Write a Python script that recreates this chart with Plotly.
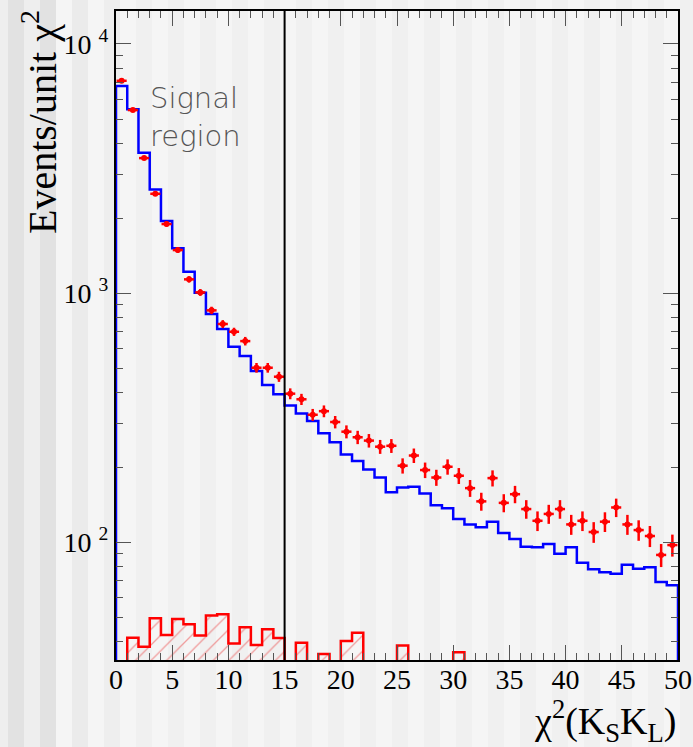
import numpy as np
import plotly.graph_objects as go

# ---- data ----
bin_edges = list(range(0, 51))          # chi2 bins of unit width, 0..50
data_counts = [7118, 5430, 3484, 2505, 1894, 1489, 1136, 1007, 853, 752,
               700, 642, 502, 502, 462, 395, 375, 325, 336, 304,
               278, 264, 256, 242, 244, 203, 223, 195, 182, 201,
               185, 165, 146, 181, 144, 156, 136, 122, 130, 136,
               118, 122, 110, 121, 138, 118, 112, 106, 89, 97.5]
mc_counts = [6776, 5466, 3660, 2609, 1947, 1513, 1219, 1004, 824, 718,
             610, 559, 487, 428, 393, 354, 329, 307, 274, 252,
             225, 212, 196, 182, 159, 166, 167, 157, 141, 137,
             124, 118, 115, 121, 109, 103, 96, 95.5, 98.4, 90,
             95.5, 82.8, 77.9, 75.8, 74.8, 81.3, 78.4, 79.4, 69.3, 67.2]
bkg_counts = [0, 41.4, 38.1, 49.6, 42.5, 49.2, 46.9, 42.3, 50.8, 51.4,
              39.3, 45.6, 38.7, 44.8, 41.3, 0, 39.5, 0, 35.6, 0,
              40.2, 43.4, 0, 0, 0, 38.5, 0, 0, 0, 0,
              36.2, 0, 0, 0, 0, 0, 0, 0, 0, 0,
              0, 0, 0, 0, 0, 0, 0, 0, 0, 0]
signal_cut = 15
x_ticks = [0, 5, 10, 15, 20, 25, 30, 35, 40, 45, 50]
y_major = [100, 1000, 10000]
y_labels = ["10 <sup>2</sup>", "10 <sup>3</sup>", "10 <sup>4</sup>"]

FLOOR = 1.0  # below visible range (log axis)

def step_path(edges, vals):
    xs, ys = [edges[0]], [FLOOR]
    for i, v in enumerate(vals):
        vv = v if v > 0 else FLOOR
        xs += [edges[i], edges[i + 1]]
        ys += [vv, vv]
    xs.append(edges[-1]); ys.append(FLOOR)
    return xs, ys

W, H = 693, 747
ML, MR, MT, MB = 116, 15, 11, 87
PW, PH = W - ML - MR, H - MT - MB
def px2paper_x(px): return (px - ML) / PW
def py2paper_y(py): return (H - MB - py) / PH

fig = go.Figure()

# background hatched histogram
bx, by = step_path(bin_edges, bkg_counts)
fig.add_trace(go.Scatter(
    x=bx, y=by, mode="lines", fill="toself",
    fillcolor="rgba(0,0,0,0)",
    fillpattern=dict(shape="/", fgcolor="rgba(235,50,50,0.9)", bgcolor="rgba(0,0,0,0)",
                     size=11, solidity=0.12),
    line=dict(color="#ff0000", width=2.5), hoverinfo="skip", showlegend=False))

# MC histogram
mx, my = step_path(bin_edges, mc_counts)
fig.add_trace(go.Scatter(x=mx, y=my, mode="lines",
                         line=dict(color="#0000ff", width=2.5),
                         hoverinfo="skip", showlegend=False))

# data points
centers = [(bin_edges[i] + bin_edges[i + 1]) / 2 for i in range(len(data_counts))]
fig.add_trace(go.Scatter(
    x=centers, y=data_counts, mode="markers",
    marker=dict(color="#ff0000", size=6),
    error_y=dict(type="data", array=np.sqrt(data_counts), color="#ff0000",
                 thickness=2.5, width=0),
    error_x=dict(type="constant", value=0.45, color="#ff0000", thickness=2.5, width=0),
    showlegend=False))

# striped background
shapes = []
dark_cols = ["#e2e2e2", "#e2e2e2", "#ebebeb", "#eeeeee"]
for m in range(22):
    x0 = 8 + 32 * m
    col = dark_cols[m] if m < len(dark_cols) else "#f0f0f0"
    shapes.append(dict(type="rect", xref="paper", yref="paper", layer="below",
                       x0=px2paper_x(x0), x1=px2paper_x(x0 + 16),
                       y0=py2paper_y(H + 5), y1=py2paper_y(-5),
                       fillcolor=col, line=dict(width=0)))
for (a, b) in [(-2, 8), (24, 40)]:
    shapes.append(dict(type="rect", xref="paper", yref="paper", layer="below",
                       x0=px2paper_x(a), x1=px2paper_x(b),
                       y0=py2paper_y(H + 5), y1=py2paper_y(-5),
                       fillcolor="#eeeeee", line=dict(width=0)))
# signal region boundary
shapes.append(dict(type="line", xref="x", yref="paper", x0=signal_cut, x1=signal_cut,
                   y0=0, y1=1, line=dict(color="black", width=2), layer="above"))

serif = "Liberation Serif"
y_minor = [k * 10 ** e for e in (1, 2, 3, 4) for k in range(2, 10)]

fig.update_layout(
    width=W, height=H,
    margin=dict(l=ML, r=MR, t=MT, b=MB, autoexpand=False),
    paper_bgcolor="#f5f5f5", plot_bgcolor="rgba(0,0,0,0)",
    shapes=shapes,
    xaxis=dict(range=[0, 50], tickvals=x_ticks, ticks="inside", ticklen=15,
               tickcolor="#555", tickwidth=1, showgrid=False, zeroline=False,
               showline=True, linecolor="black", linewidth=2, mirror="ticks",
               automargin=False, ticklabelstandoff=-7,
               tickfont=dict(family=serif, size=28, color="black"),
               minor=dict(dtick=1, ticks="inside", ticklen=7, tickcolor="#555",
                          tickwidth=1, showgrid=False)),
    yaxis=dict(type="log", range=[1.5277, 4.1324], tickvals=y_major, ticktext=y_labels,
               ticks="inside", ticklen=15, tickcolor="#555", tickwidth=1,
               showgrid=False, zeroline=False, showline=True, linecolor="black",
               linewidth=2, mirror="ticks", automargin=False,
               tickfont=dict(family=serif, size=28, color="black"),
               minor=dict(tickmode="array", tickvals=y_minor, ticks="inside", ticklen=7,
                          tickcolor="#555", tickwidth=1, showgrid=False)),
    annotations=[
        dict(text="Events/unit χ<sup>2</sup>", textangle=-90, showarrow=False,
             xref="paper", yref="paper", x=px2paper_x(40), y=py2paper_y(8),
             xanchor="center", yanchor="top",
             font=dict(family=serif, size=40, color="black")),
        dict(text="χ<sup>2</sup>(K<sub>S</sub>K<sub>L</sub>)", showarrow=False,
             xref="paper", yref="paper", x=px2paper_x(678), y=py2paper_y(721),
             xanchor="right", yanchor="middle",
             font=dict(family=serif, size=38, color="black")),
        dict(text="Signal<br>region", showarrow=False, align="left",
             xref="paper", yref="paper", x=px2paper_x(148), y=py2paper_y(79),
             xanchor="left", yanchor="top",
             font=dict(family="DejaVu Sans", size=29, color="#555555", weight=200)),
    ],
)

fig.write_html("out.html")
